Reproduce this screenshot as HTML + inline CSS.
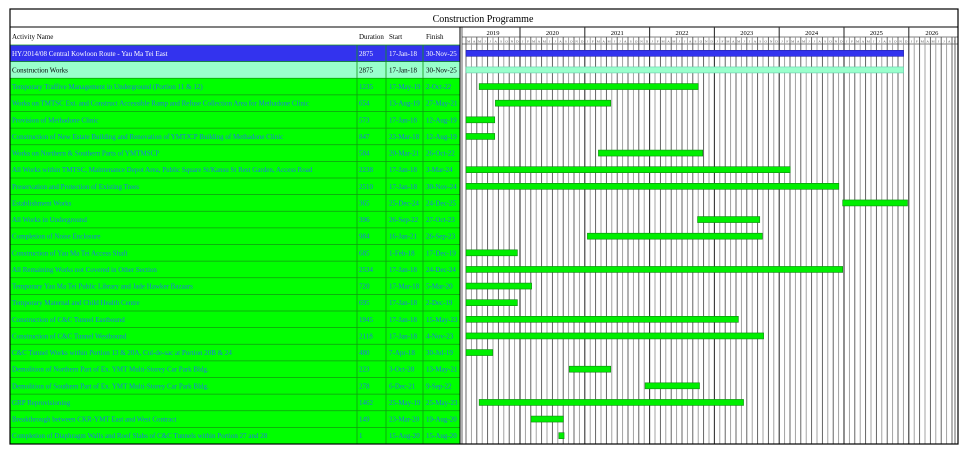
<!DOCTYPE html>
<html><head><meta charset="utf-8"><style>
body{margin:0;background:#fff;width:966px;height:454px;overflow:hidden}
svg{position:absolute;left:0;top:0}
text{font-family:"Liberation Serif",serif}
</style></head><body>
<svg id="s" width="966" height="454" xmlns="http://www.w3.org/2000/svg"></svg>
<script>
const rows=[
["HY/2014/08 Central Kowloon Route - Yau Ma Tei East",2875,"17-Jan-18","30-Nov-25",2018.04,2025.92,"b"],
["Construction Works",2875,"17-Jan-18","30-Nov-25",2018.04,2025.92,"c"],
["Temporary Traffive Management in Underground (Portion 11 & 12)",1235,"17-May-19","2-Oct-22",2019.37,2022.75],
["Works on TMTSC Ext. and Construct Accessible Ramp and Refuse Collection Area for Methadone Clinic",654,"13-Aug-19","27-May-21",2019.62,2021.4],
["Provision of Methadone Clinic",573,"17-Jan-18","12-Aug-19",2018.04,2019.61],
["Construction of New Estate Building and Renovation of YMTJCP Building of Methadone Clinic",847,"23-Mar-18","12-Aug-19",2018.22,2019.61],
["Works on Northern & Southern Parts of YMTMSCP",584,"20-Mar-21","26-Oct-22",2021.21,2022.82],
["All Works within TMTSC, Maintenance Depot Area, Public Square St/Kansu St Rest Garden, Access Road",2238,"17-Jan-18","3-Mar-24",2018.04,2024.17],
["Preservation and Protection of Existing Trees",2510,"17-Jan-18","30-Nov-24",2018.04,2024.92],
["Establishment Works",365,"25-Dec-24","24-Dec-25",2024.98,2025.98],
["All Works in Underground",396,"26-Sep-22","27-Oct-23",2022.74,2023.7],
["Completion of Noise Enclosure",984,"16-Jan-21","26-Sep-23",2021.04,2023.74],
["Construction of Yau Ma Tei Access Shaft",685,"1-Feb-18","17-Dec-19",2018.08,2019.96],
["All Remaining Works not Covered in Other Section",2534,"17-Jan-18","24-Dec-24",2018.04,2024.98],
["Temporary Yau Ma Tei Public Library and Jade Hawker Bazaars",720,"17-Mar-18","5-Mar-20",2018.2,2020.18],
["Temporary Maternal and Child Health Centre",695,"17-Jan-18","2-Dec-19",2018.04,2019.96],
["Construction of  C&C Tunnel Eastbound",1945,"17-Jan-18","15-May-23",2018.04,2023.37],
["Construction of  C&C Tunnel Westbound",2118,"17-Jan-18","4-Nov-23",2018.04,2023.76],
["C&C Tunnel Works within Portion 13 & 20A, Cul-de-sac at Portion 20B & 24",480,"7-Apr-18","30-Jul-19",2018.26,2019.58],
["Demolition of Northern Part of Ex. YMT Multi-Storey Car Park Bldg.",223,"3-Oct-20","13-May-21",2020.76,2021.4],
["Demolition of Southern Part of Ex. YMT Multi-Storey Car Park Bldg.",278,"6-Dec-21","9-Sep-22",2021.93,2022.77],
["GRP Reprovisioning",1462,"25-May-19","25-May-23",2019.37,2023.45],
["Breakthrough between CKR-YMT East and West Contract",149,"23-Mar-20","19-Aug-20",2020.17,2020.67],
["Completion of Diaphragm Walls and Roof Slabs of C&C Tunnels within Portion 27 and 28",1,"15-Aug-20","15-Aug-20",2020.6,2020.68]
];
const YW=64.8, X20=520, XMIN=466;
const X=d=>Math.max(XMIN,X20+(d-2020)*YW);
let h='';
h+='<rect x="10" y="9" width="948" height="435" fill="#fff" stroke="#000" stroke-width="1"/>';
h+='<text x="483" y="22" font-size="10" text-anchor="middle">Construction Programme</text>';
h+='<line x1="10" y1="27" x2="958" y2="27" stroke="#000"/>';
h+='<text x="12" y="39" font-size="7">Activity Name</text><text x="359" y="39" font-size="7">Duration</text><text x="389" y="39" font-size="7">Start</text><text x="426" y="39" font-size="7">Finish</text>';
const RH=16.625,Y0=45;
rows.forEach((r,i)=>{
 const y=Y0+i*RH;
 const bg=r[6]=="b"?"#3333ee":r[6]=="c"?"#99ffcc":"#00ff00";
 const tc=r[6]=="b"?"#fff":r[6]=="c"?"#000":"#2277dd";
 h+=`<rect x="10" y="${y}" width="450" height="${RH}" fill="${bg}"/>`;
 h+=`<line x1="10" y1="${y}" x2="460" y2="${y}" stroke="#119911" stroke-width="0.8"/>`;
 const ty=y+RH/2+2.5;
 const esc=s=>String(s).replace(/&/g,'&amp;');
 h+=`<text x="12" y="${ty}" font-size="7" fill="${tc}">${esc(r[0])}</text>`;
 h+=`<text x="359" y="${ty}" font-size="7" fill="${tc}">${r[1]}</text><text x="389" y="${ty}" font-size="7" fill="${tc}">${r[2]}</text><text x="426" y="${ty}" font-size="7" fill="${tc}">${r[3]}</text>`;
});
['357','386','423'].forEach(x=>h+=`<line x1="${x}" y1="45" x2="${x}" y2="444" stroke="#119911" stroke-width="0.8"/>`);
h+='<line x1="460" y1="27" x2="460" y2="444" stroke="#000"/><line x1="462" y1="27" x2="462" y2="444" stroke="#000" stroke-width="0.6"/>';
h+='<line x1="462" y1="37" x2="958" y2="37" stroke="#000" stroke-width="0.5"/><line x1="462" y1="44" x2="958" y2="44" stroke="#000" stroke-width="0.5"/>';
const ML="JFMAMJJASOND";
for(let m=2;m<8*12;m++){
 const y=2019+Math.floor(m/12), mm=m%12;
 const x=X20+(y-2020)*YW+mm*YW/12;
 if(x>955)break;
 if(mm==0){h+=`<line x1="${x}" y1="27" x2="${x}" y2="444" stroke="#333" stroke-width="1.1"/>`;}
 else h+=`<line x1="${x}" y1="37" x2="${x}" y2="444" stroke="${mm%2?'#999':'#555'}" stroke-width="0.9"/>`;
 h+=`<text x="${x+YW/24}" y="42.5" font-size="3.5" text-anchor="middle" fill="#444">${ML[mm]}</text>`;
}
for(let y=2019;y<=2026;y++){
 const a=Math.max(XMIN,X20+(y-2020)*YW), b=Math.min(955,X20+(y+1-2020)*YW);
 h+=`<text x="${(a+b)/2}" y="35" font-size="6.5" text-anchor="middle">${y}</text>`;
}
h+='<line x1="955" y1="37" x2="955" y2="444" stroke="#555" stroke-width="0.9"/>';
rows.forEach((r,i)=>{
 const y=Y0+i*RH+RH/2-3;
 const f=r[6]=="b"?"#3333ee":r[6]=="c"?"#99ffcc":"#00ee00";
 const st=r[6]=="b"?"#2222aa":r[6]=="c"?"#66ccaa":"#118811";
 const a=X(r[4]),b=X(r[5]);
 h+=`<rect x="${a}" y="${y}" width="${Math.max(4,b-a)}" height="6" fill="${f}" stroke="${st}" stroke-width="0.6"/>`;
});
h+='<rect x="10" y="9" width="948" height="435" fill="none" stroke="#000" stroke-width="1.2"/>';
document.getElementById('s').innerHTML=h;
</script>
</body></html>
